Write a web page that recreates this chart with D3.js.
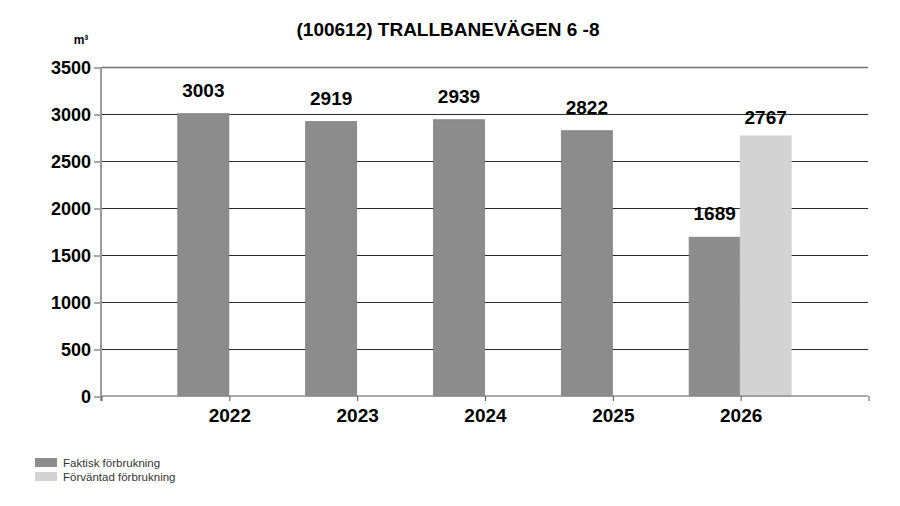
<!DOCTYPE html>
<html><head><meta charset="utf-8">
<script src="https://cdn.jsdelivr.net/npm/d3@7"></script>
<style>body{margin:0;background:#fff;} text{font-family:"Liberation Sans",Arial,sans-serif;}</style>
</head><body><svg id="c" width="900" height="506"></svg>
<script>
const title = "(100612) TRALLBANEVÄGEN 6 -8";
const unit = "m³";
const years = ["2022","2023","2024","2025","2026"];
const actual = [3003, 2919, 2939, 2822, 1689];
const expected = [null, null, null, null, 2767];
const yTicks = [0,500,1000,1500,2000,2500,3000,3500];
const seriesNames = ["Faktisk förbrukning","Förväntad förbrukning"];
const colors = ["#8c8c8c","#d3d3d3"];

const svg = d3.select("#c");
const pLeft = 101, pRight = 868, pTop = 67, pBottom = 396;
const y = d3.scaleLinear().domain([0,3500]).range([pBottom, pTop]);
const slots = ["", ...years, " "];
const x = d3.scalePoint().domain(slots).range([pLeft, pRight]);
const barW = 51;
const crisp = v => Math.round(v) + 0.5;

// gridlines
svg.append("g").selectAll("line").data(yTicks.filter(d=>d>0)).join("line")
  .attr("x1", pLeft).attr("x2", pRight)
  .attr("y1", d=>crisp(y(d))).attr("y2", d=>crisp(y(d)))
  .attr("stroke", d=>d===3500?"#707070":"#2a2a2a").attr("stroke-width", d=>d===3500?1.5:1);

// y axis
const ya = svg.append("g").attr("transform",`translate(${pLeft},0.5)`)
  .call(d3.axisLeft(y).tickValues(yTicks).tickFormat(d3.format("d")).tickSize(7).tickPadding(3));
ya.select(".domain").remove();
ya.selectAll(".tick line").attr("stroke","#555");
ya.selectAll(".tick text").attr("fill","#000").style("font-size","18px").style("font-weight","bold")
  .style("font-family","'Liberation Sans',Arial,sans-serif");

// bars
const data = [];
years.forEach((yr,i)=>{
  if (actual[i]!=null) data.push({yr, v: actual[i], s:0});
  if (expected[i]!=null) data.push({yr, v: expected[i], s:1});
});
svg.append("g").selectAll("rect").data(data).join("rect")
  .attr("x", d=> d.s===0 ? x(d.yr)-barW : x(d.yr))
  .attr("width", barW)
  .attr("y", d=>y(d.v)).attr("height", d=>pBottom - y(d.v))
  .attr("fill", d=>colors[d.s])
  .attr("stroke", d=> d.s===0 ? "#7f7f7f" : "#cfcfcf").attr("stroke-width",0.8);

// value labels
svg.append("g").selectAll("text").data(data).join("text")
  .attr("x", d=> d.s===0 ? x(d.yr)-barW/2 : x(d.yr)+barW/2)
  .attr("y", d=> y(d.v) - (d.s===0 ? 17 : 12))
  .attr("text-anchor","middle").style("font-size","19px").style("font-weight","bold")
  .attr("fill","#000").text(d=>d.v);

// axes lines
svg.append("line").attr("x1",pLeft).attr("x2",pRight).attr("y1",pBottom).attr("y2",pBottom)
  .attr("stroke","#8c8c8c").attr("stroke-width",1.5);
svg.append("line").attr("x1",pLeft).attr("x2",pLeft).attr("y1",pTop).attr("y2",pBottom+5)
  .attr("stroke","#9a9a9a").attr("stroke-width",2);
const xa = svg.append("g").attr("transform",`translate(0.5,${pBottom})`)
  .call(d3.axisBottom(x).tickSize(5).tickPadding(8));
xa.select(".domain").remove();
xa.selectAll(".tick line").attr("stroke","#555");
xa.selectAll(".tick text").attr("fill","#000").style("font-size","19px").style("font-weight","bold")
  .style("font-family","'Liberation Sans',Arial,sans-serif");

// title
svg.append("text").attr("x",448).attr("y",36).attr("text-anchor","middle")
  .style("font-size","19px").style("font-weight","bold").attr("fill","#000").text(title);
svg.append("text").attr("x",81).attr("y",44).attr("text-anchor","middle")
  .style("font-size","12px").style("font-weight","bold").attr("fill","#000").text(unit);

// legend
const lg = svg.append("g").attr("transform","translate(35,458)");
seriesNames.forEach((n,i)=>{
  lg.append("rect").attr("x",0).attr("y",i*14).attr("width",22).attr("height",9).attr("fill",colors[i]);
  lg.append("text").attr("x",28).attr("y",i*14+8.5).style("font-size","11.5px").attr("fill","#333").text(n);
});
</script></body></html>
